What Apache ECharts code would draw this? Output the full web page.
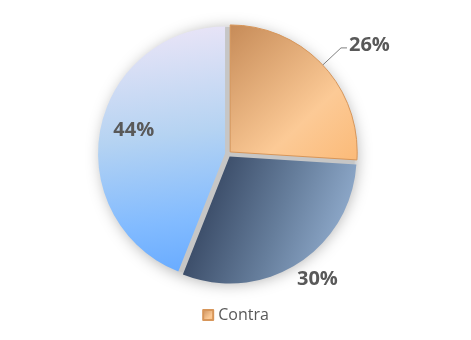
<!DOCTYPE html>
<html>
<head>
<meta charset="utf-8">
<script src="https://cdn.jsdelivr.net/npm/echarts@6/dist/echarts.min.js"></script>
<style>html,body{margin:0;padding:0;background:#fff}#c{width:471px;height:340px}</style>
</head>
<body>
<div id="c"></div>
<script>
const categories = ['Contra', 'A favor', 'NS/NC'];
const values = [26, 30, 44];
const legendItems = ['Contra'];

const grad = (x, y, x2, y2, stops) => new echarts.graphic.LinearGradient(x, y, x2, y2, stops.map((c, i) => ({offset: c[0], color: c[1]})));
const sliceStyles = [
  {color: grad(0, 0, 1, 1, [[0, '#c68b58'], [0.65, '#fcca96'], [1, '#fbba78']]), borderColor: '#d7965a', borderWidth: 1},
  {color: grad(0, 0.25, 1, 0.75, [[0, '#2c3b56'], [0.55, '#667e9c'], [1, '#9ab6d8']])},
  {color: grad(0.35, 0, 0.6, 1, [[0, '#ebe5f7'], [0.45, '#b5d3f2'], [0.8, '#82bbff'], [1, '#6aacff']])}
];
const labelCfg = [
  {position: 'outside'},
  {position: 'outside'},
  {position: 'inside'}
];
const lineCfg = [
  {show: true, length: 25, length2: 6, lineStyle: {color: '#7f7f7f', width: 1}},
  {show: false, length: 8, length2: 2},
  {show: false}
];
const labelShift = {1: {dx: -12, dy: 9}, 2: {dx: -26, dy: -11}, 0: {dx: -3, dy: -3}};

const chart = echarts.init(document.getElementById('c'));
chart.setOption({
  animation: false,
  legend: {
    data: legendItems,
    bottom: 12,
    left: 'center',
    icon: 'rect',
    itemWidth: 10,
    itemHeight: 10,
    itemGap: 6,
    selectedMode: false,
    textStyle: {color: '#595959', fontSize: 16, fontFamily: 'Open Sans'}
  },
  series: [
    {
      type: 'pie',
      name: 'bg',
      silent: true,
      center: [228, 154],
      radius: 127,
      z: 1,
      label: {show: false},
      labelLine: {show: false},
      itemStyle: {color: '#c6c6c6', shadowBlur: 16, shadowColor: 'rgba(0,0,0,0.35)', shadowOffsetX: 1, shadowOffsetY: 2},
      data: [{value: 1, name: 'bg'}]
    },
    {
      type: 'pie',
      name: 'Opinión',
      center: [228, 154],
      radius: 127,
      z: 2,
      startAngle: 90,
      clockwise: true,
      selectedMode: 'multiple',
      selectedOffset: 3,
      avoidLabelOverlap: false,
      label: {
        formatter: '{d}%',
        color: '#595959',
        fontSize: 20,
        fontWeight: 'bold',
        fontFamily: 'Open Sans'
      },
      labelLayout: function (p) { return labelShift[p.dataIndex] || {}; },
      emphasis: {disabled: true},
      data: categories.map((n, i) => ({
        name: n,
        value: values[i],
        selected: true,
        itemStyle: sliceStyles[i],
        label: labelCfg[i],
        labelLine: lineCfg[i]
      }))
    }
  ]
});
</script>
</body>
</html>
